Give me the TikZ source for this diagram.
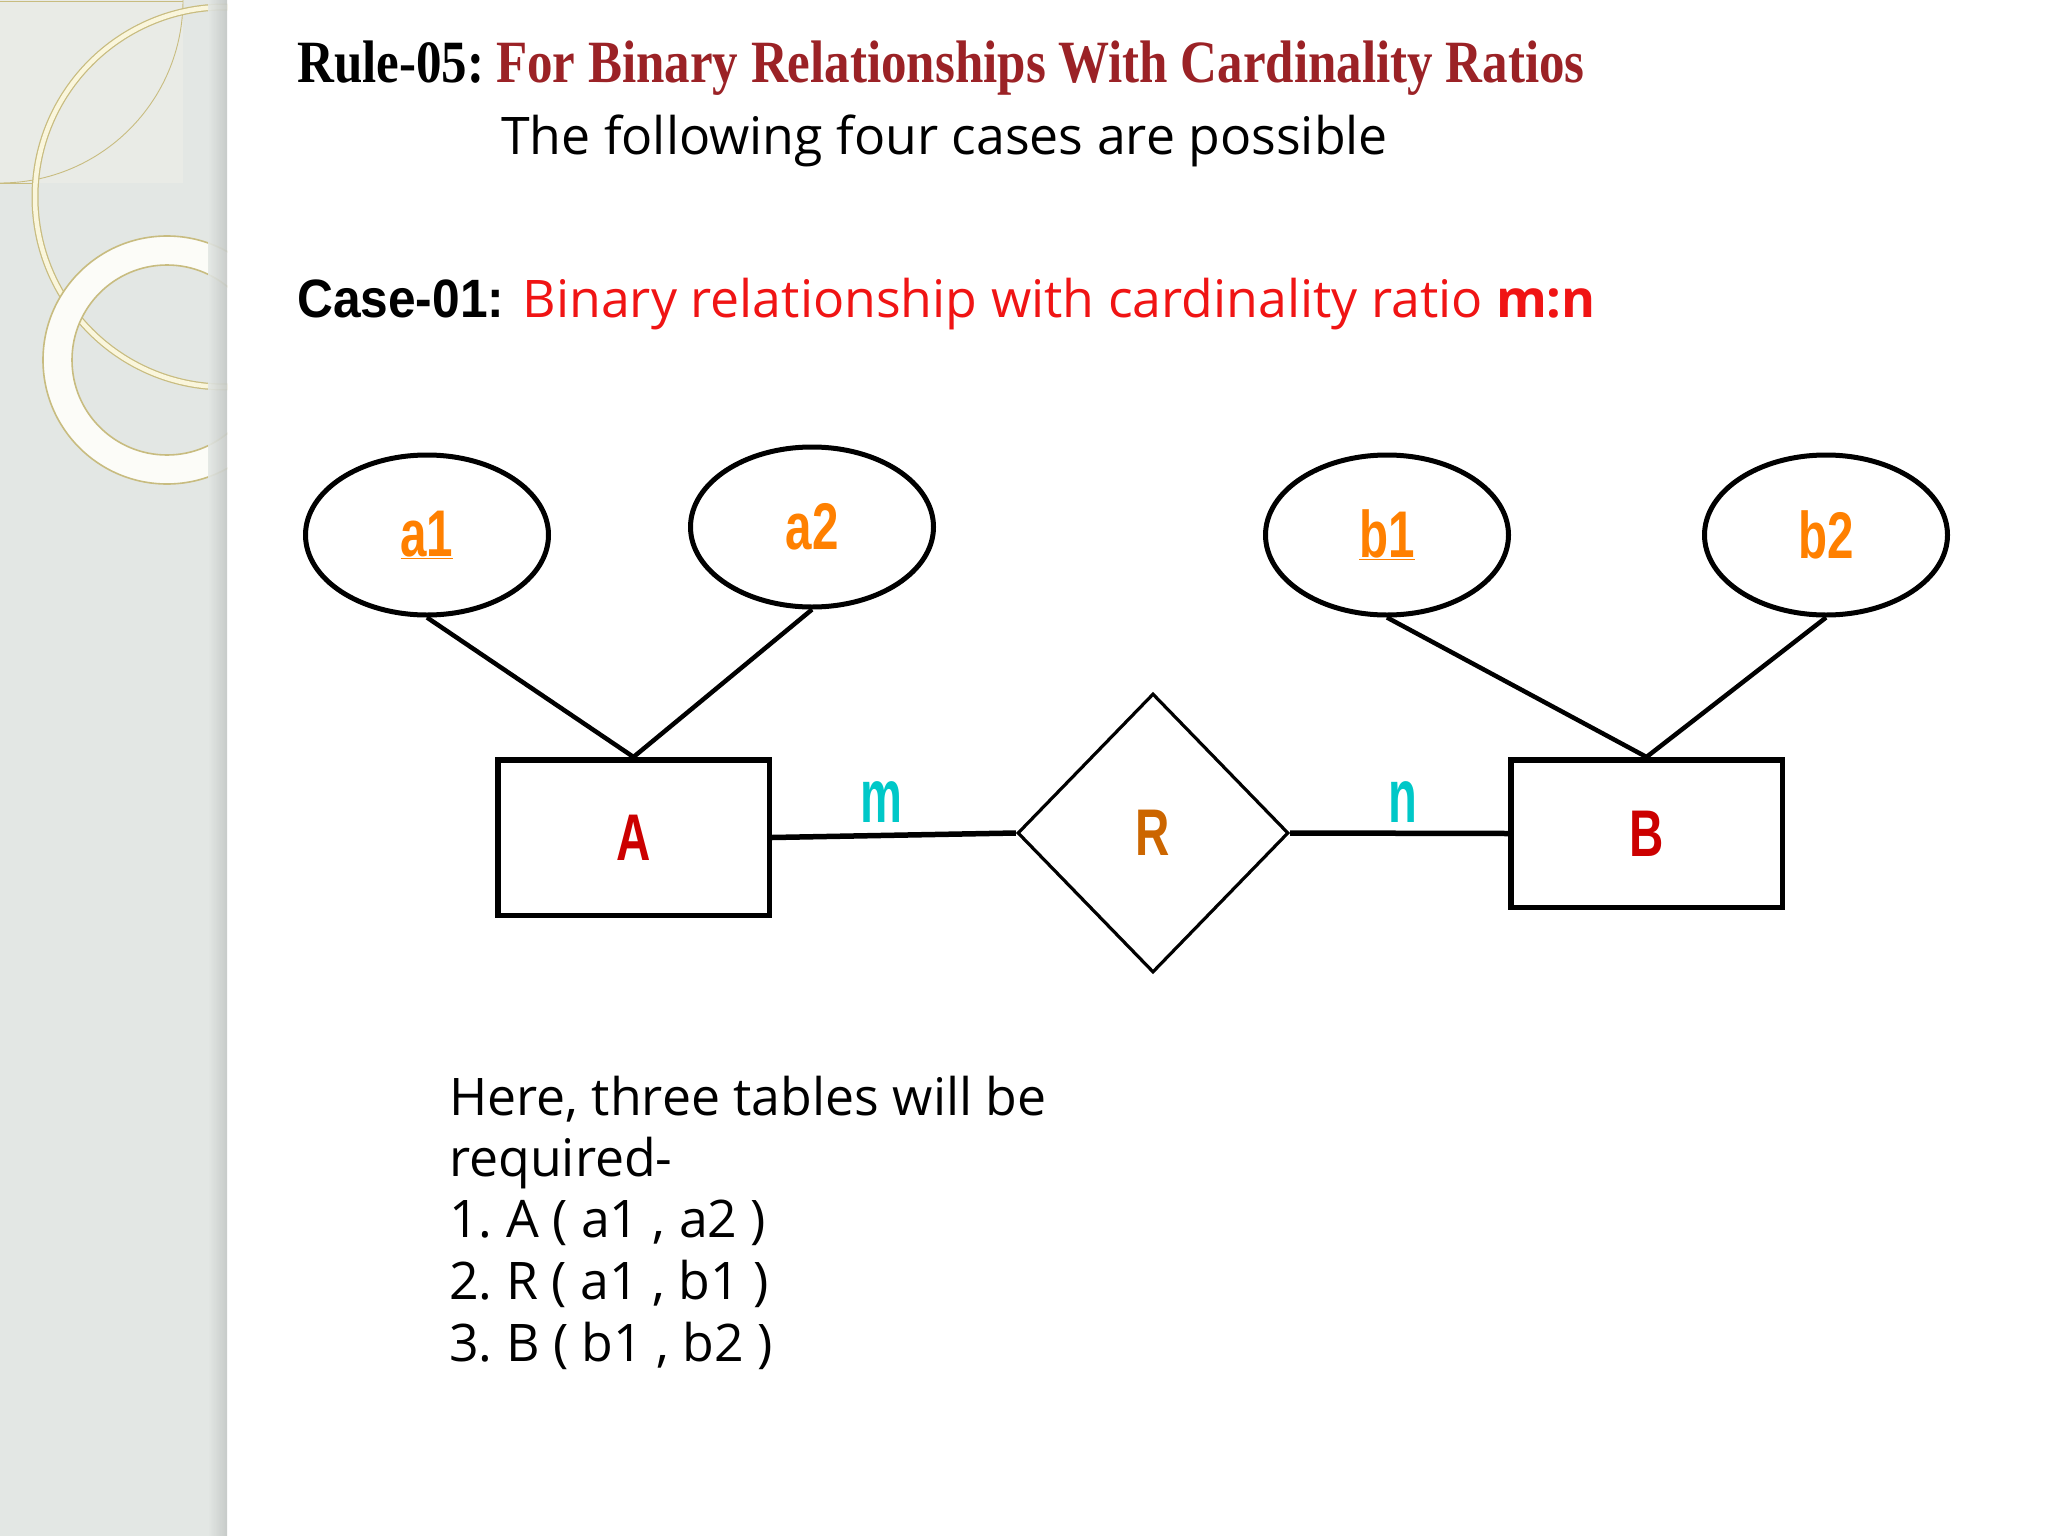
\documentclass[tikz,border=0pt]{standalone}
\usepackage{fontspec}
\setmainfont{Open Sans}
\newfontfamily\titlefont[FakeStretch=0.85]{Liberation Serif}
\newfontfamily\arialfont[FakeStretch=0.92]{Liberation Sans}
\newfontfamily\labelfont[FakeStretch=0.72]{Liberation Sans}
\newfontfamily\cardfont[FakeStretch=0.62]{Liberation Sans}
\usetikzlibrary{shapes.geometric}
\definecolor{panel}{RGB}{227,231,228}
\definecolor{panellight}{RGB}{233,235,230}
\definecolor{panelshadow}{RGB}{196,200,198}
\definecolor{ringgold}{RGB}{200,188,128}
\definecolor{ringcream}{RGB}{250,246,220}
\definecolor{ringwhite}{RGB}{252,252,248}
\definecolor{titlered}{RGB}{155,34,38}
\definecolor{casered}{RGB}{240,20,20}
\definecolor{attrorange}{RGB}{255,128,0}
\definecolor{entred}{RGB}{204,0,0}
\definecolor{relorange}{RGB}{204,102,0}
\definecolor{cardcyan}{RGB}{0,200,200}
\tikzset{
  attr/.style={ellipse, draw=black, line width=5, minimum width=243, minimum height=160, inner sep=0,
    font=\labelfont\bfseries\fontsize{66}{66}\selectfont, text=attrorange},
  entity/.style={rectangle, draw=black, line width=5.5, minimum width=271.5, inner sep=0,
    font=\labelfont\bfseries\fontsize{66}{66}\selectfont, text=entred},
  rel/.style={diamond, draw=black, line width=3.2, minimum width=271, minimum height=279, inner sep=0,
    font=\labelfont\bfseries\fontsize{66}{66}\selectfont, text=relorange},
  card/.style={inner sep=0, font=\cardfont\bfseries\fontsize{76}{76}\selectfont, text=cardcyan},
  attrlink/.style={draw=black, line width=4.5},
  rellink/.style={draw=black, line width=5.5},
  bodytext/.style={anchor=base west, inner sep=0, font=\fontsize{51.8}{62}\selectfont},
}
\begin{document}
\begin{tikzpicture}[x=1pt,y=-1pt]
\useasboundingbox (0,0) rectangle (2048,1536);
\fill[white] (0,0) rectangle (2048,1536);
% left decorative panel
\fill[panel] (0,0) rectangle (227,1536);
\begin{scope}
  \clip (0,0) rectangle (227,1536);
  \fill[panellight] (0,0) rectangle (183,183);
  \draw[ringgold, line width=0.9] (0,1) -- (183,1);
  \draw[ringgold, line width=0.9] (0,183) -- (36,183);
  \begin{scope}
    \clip (0,0) rectangle (184,184);
    \draw[ringgold, line width=0.9] (0,0) circle[radius=183];
  \end{scope}
  \draw[ringgold, line width=7] (225,197) circle[radius=190];
  \draw[ringcream, line width=4.5] (225,197) circle[radius=190];
  \fill[ringwhite, even odd rule] (167,360) circle[radius=124] (167,360) circle[radius=95];
  \draw[ringgold, line width=1.6] (167,360) circle[radius=124];
  \draw[ringgold, line width=1.6] (167,360) circle[radius=95];
\end{scope}
\shade[left color=panel, right color=panelshadow, opacity=0.9] (208,0) rectangle (227,1536);

% headings
\node[anchor=base west, inner sep=0] (title) at (297,83)
  {\titlefont\bfseries\fontsize{60}{72}\selectfont Rule-05:\hspace{0.2em}\textcolor{titlered}{For Binary Relationships With Cardinality Ratios}};
\node[anchor=base west, inner sep=0] (sub) at (501,155)
  {\fontsize{51.8}{62}\selectfont The following four cases are possible};
\node[anchor=base west, inner sep=0] (case) at (297,317)
  {{\arialfont\bfseries\fontsize{54}{60}\selectfont Case-01: }{\fontsize{51.8}{62}\selectfont\color{casered}Binary relationship with cardinality ratio \textbf{m:n}}};

% ER diagram
\node[attr] (a1) at (427,535) {\underline{a1}};
\node[attr] (a2) at (812,527) {a2};
\node[attr] (b1) at (1387,535) {\underline{b1}};
\node[attr] (b2) at (1826,535) {b2};
\node[entity, minimum height=155.5] (A) at (633.5,837.5) {A};
\node[entity, minimum height=147.5] (B) at (1646.5,833.5) {B};
\node[rel] (R) at (1153,833) {R};
\draw[attrlink] (a1.south) -- (A.north);
\draw[attrlink] (a2.south) -- (A.north);
\draw[attrlink] (b1.south) -- (B.north);
\draw[attrlink] (b2.south) -- (B.north);
\draw[rellink] (A.east) -- (R.west);
\draw[rellink] (R.east) -- (B.west);
\node[card] (m) at (881,802) {m};
\node[card] (n) at (1403,802) {n};

% bottom text
\node[bodytext] (t1) at (449,1115) {Here, three tables will be};
\node[bodytext] (t2) at (449,1176) {required-};
\node[bodytext] (t3) at (449,1237) {1.\ A ( a1 , a2 )};
\node[bodytext] (t4) at (449,1299) {2.\ R ( a1 , b1 )};
\node[bodytext] (t5) at (449,1361) {3.\ B ( b1 , b2 )};
\end{tikzpicture}
\end{document}
